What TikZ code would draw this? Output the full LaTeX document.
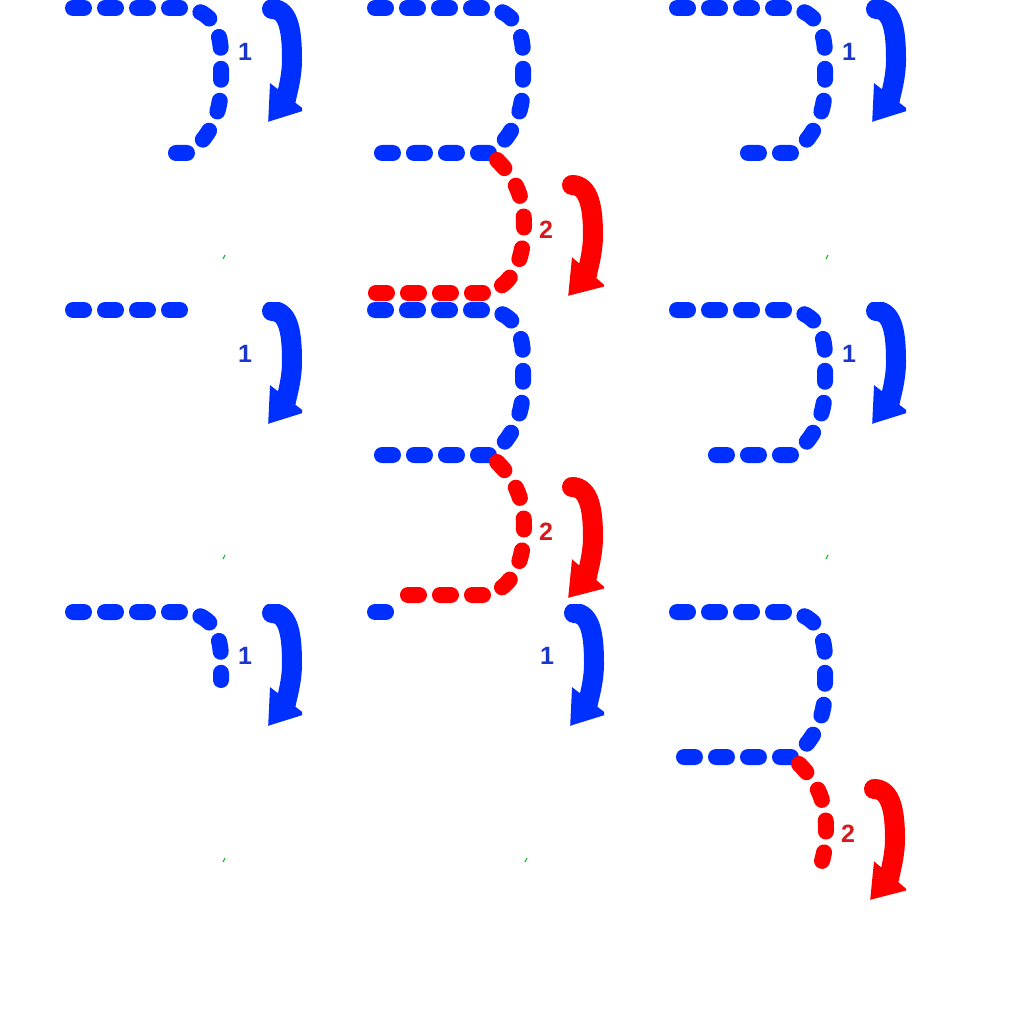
\documentclass[tikz,border=0pt]{standalone}
\usepackage{fontspec}
\setmainfont{Liberation Sans}
\usetikzlibrary{arrows.meta}
\definecolor{strokeblue}{RGB}{0,48,255}
\definecolor{strokered}{RGB}{255,0,0}
\definecolor{labelblue}{RGB}{25,55,205}
\definecolor{labelred}{RGB}{215,25,30}
\definecolor{speckgreen}{RGB}{40,190,60}
\tikzset{
  stroke one/.style={draw=strokeblue,line width=16pt,line cap=round,dash pattern=on 11pt off 21pt},
  stroke two/.style={draw=strokered,line width=16pt,line cap=round,dash pattern=on 11pt off 21pt},
  hint arrow/.style={line width=20pt,line cap=round,-{Triangle[length=32pt,width=42pt]}},
  hint label/.style={font=\bfseries\fontsize{25}{25}\selectfont,inner sep=0pt},
  speck/.style={draw=speckgreen,line width=1.2pt},
  hint one/.pic={
    \draw[hint arrow,strokeblue] (272,9) .. controls (290,9) and (292,35) .. (292,60)
      .. controls (292,80) and (285,100) .. (268,122);
    \node[hint label,text=labelblue] (num) at (245,52) {1};
  },
  hint two/.pic={
    \draw[hint arrow,strokered] (270,185) .. controls (288,185) and (291,210) .. (291,235)
      .. controls (291,255) and (284,275) .. (266,296);
    \node[hint label,text=labelred] (num) at (244,230) {2};
  }
}

\begin{document}
\begin{tikzpicture}[x=1pt,y=-1pt]
  \useasboundingbox (0,0) rectangle (1024,1024);
  % row 1
  \begin{scope}[shift={(0,0)}]
    \clip (0,0) rectangle (302,302);
    \draw[stroke one] (73,8) -- (180,8) .. controls (210,8) and (221,28) .. (221,55) -- (221,85)
      .. controls (221,115) and (208,140) .. (188,153) -- (160,153);
    \pic (a) at (0,0) {hint one};
    \draw[speck] (223,259) -- (225,255);
  \end{scope}
  \begin{scope}[shift={(302,0)}]
    \clip (0,0) rectangle (302,302);
    \draw[stroke one] (73,8) -- (180,8) .. controls (210,8) and (221,28) .. (221,55) -- (221,85)
      .. controls (221,115) and (208,140) .. (188,153) -- (63,153);
    \draw[stroke two] (195,160) .. controls (215,180) and (222,200) .. (222,225)
      .. controls (222,258) and (212,285) .. (185,293) -- (66,293);
    \pic (b) at (0,0) {hint two};
  \end{scope}
  \begin{scope}[shift={(604,0)}]
    \clip (0,0) rectangle (302,302);
    \draw[stroke one] (73,8) -- (180,8) .. controls (210,8) and (221,28) .. (221,55) -- (221,85)
      .. controls (221,115) and (208,140) .. (188,153) -- (126,153);
    \pic (c) at (0,0) {hint one};
    \draw[speck] (222,259) -- (224,255);
  \end{scope}
  % row 2
  \begin{scope}[shift={(0,302)}]
    \clip (0,0) rectangle (302,302);
    \draw[stroke one] (73,8) -- (180,8);
    \pic (d) at (0,0) {hint one};
    \draw[speck] (223,257) -- (225,253);
  \end{scope}
  \begin{scope}[shift={(302,302)}]
    \clip (0,0) rectangle (302,302);
    \draw[stroke one] (73,8) -- (180,8) .. controls (210,8) and (221,28) .. (221,55) -- (221,85)
      .. controls (221,115) and (208,140) .. (188,153) -- (63,153);
    \draw[stroke two] (195,160) .. controls (215,180) and (222,200) .. (222,225)
      .. controls (222,258) and (212,285) .. (185,293) -- (94,293);
    \pic (e) at (0,0) {hint two};
  \end{scope}
  \begin{scope}[shift={(604,302)}]
    \clip (0,0) rectangle (302,302);
    \draw[stroke one] (73,8) -- (180,8) .. controls (210,8) and (221,28) .. (221,55) -- (221,85)
      .. controls (221,115) and (208,140) .. (188,153) -- (96,153);
    \pic (f) at (0,0) {hint one};
    \draw[speck] (222,257) -- (224,253);
  \end{scope}
  % row 3
  \begin{scope}[shift={(0,604)}]
    \clip (0,0) rectangle (302,302);
    \draw[stroke one] (73,8) -- (180,8) .. controls (210,8) and (221,28) .. (221,55) -- (221,76);
    \pic (g) at (0,0) {hint one};
    \draw[speck] (223,258) -- (225,254);
  \end{scope}
  \begin{scope}[shift={(302,604)}]
    \clip (0,0) rectangle (302,302);
    \draw[stroke one] (73,8) -- (84,8);
    \pic (h) at (0,0) {hint one};
    \draw[speck] (223,258) -- (225,254);
  \end{scope}
  \begin{scope}[shift={(604,604)}]
    \clip (0,0) rectangle (302,302);
    \draw[stroke one] (73,8) -- (180,8) .. controls (210,8) and (221,28) .. (221,55) -- (221,85)
      .. controls (221,115) and (208,140) .. (188,153) -- (63,153);
    \draw[stroke two] (195,160) .. controls (215,180) and (222,200) .. (222,225)
      .. controls (222,236.6) and (220.8,247.4) .. (218,256.9);
    \pic (i) at (0,0) {hint two};
  \end{scope}
\end{tikzpicture}
\end{document}
